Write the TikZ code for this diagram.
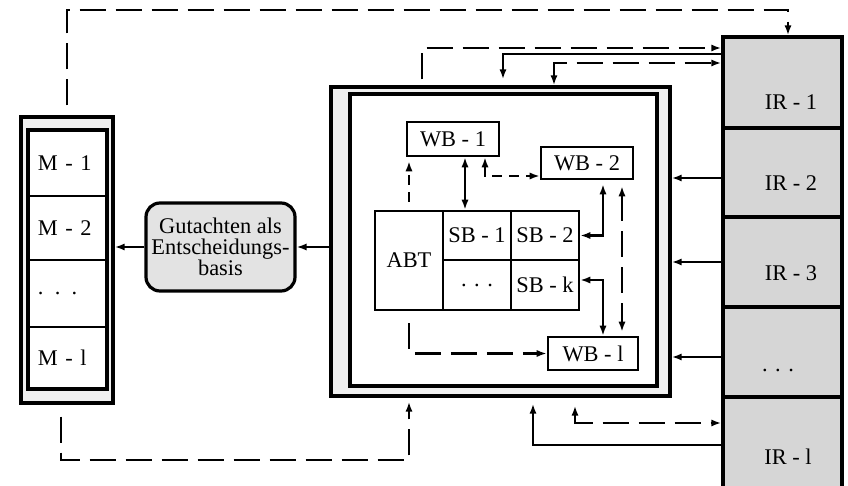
\documentclass[tikz,border=0pt]{standalone}
\usepackage{fontspec}
\setmainfont{Liberation Serif}
\usetikzlibrary{arrows.meta}

\begin{document}
\begin{tikzpicture}[x=0.5pt, y=-0.5pt, >={Latex[length=5pt,width=3.6pt]},
  font=\fontsize{11.2}{10.5}\selectfont,
  box/.style={draw, line width=1.3pt, inner sep=0pt, fill=white},
  frame/.style={draw, line width=1.7pt, inner sep=0pt},
  mcell/.style={draw, line width=0.9pt, inner xsep=5pt, inner ysep=0pt, text width=29.5pt, align=left},
  ircell/.style={draw, line width=1.7pt, fill=gray!32, inner sep=0pt, minimum width=59.5pt},
  conn/.style={line width=1.2pt},
  ldash/.style={conn, dash pattern=on 13pt off 5pt},
  sdash/.style={conn, dash pattern=on 5pt off 3.5pt}]
  \useasboundingbox (0,0) rectangle (848,486);

  \node[frame, fill=gray!12, minimum width=46pt, minimum height=143pt] (mframe) at (67,260) {};
  \node[frame, fill=white, minimum width=39.5pt, minimum height=129.5pt] (minner) at (67.5,259.5) {};
  \node[mcell, minimum height=33pt] (m1) at (67.5,163) {M - 1};
  \node[mcell, minimum height=32pt] (m2) at (67.5,228) {M - 2};
  \node[mcell, minimum height=33.5pt] (mdots) at (67.5,293.5) {. . .};
  \node[mcell, minimum height=31pt] (ml) at (67.5,358) {M - l};

  \node[draw, line width=1.6pt, fill=gray!22, rounded corners=7pt, inner sep=0pt, align=center,
    minimum width=74.5pt, minimum height=44pt] (gut) at (220.5,247) {Gutachten als\\Entscheidungs-\\basis};

  \node[frame, fill=gray!12, minimum width=169.5pt, minimum height=154.5pt] (cframe) at (500.5,241.5) {};
  \node[frame, fill=white, minimum width=153.5pt, minimum height=146pt] (cinner) at (503.5,240) {};
  \node[box, minimum width=46pt, minimum height=17pt] (wb1) at (453,139) {WB - 1};
  \node[box, minimum width=46pt, minimum height=16pt] (wb2) at (587,163) {WB - 2};
  \node[box, minimum width=34pt, minimum height=49.5pt] (abt) at (409,260.5) {ABT};
  \node[box, minimum width=34pt, minimum height=24.5pt] (sb1) at (477,235.5) {SB - 1};
  \node[box, minimum width=34pt, minimum height=24.5pt] (sb2) at (545,235.5) {SB - 2};
  \node[box, minimum width=34pt, minimum height=25pt] (sbdots) at (477,285) {. . .};
  \node[box, minimum width=34pt, minimum height=25pt] (sbk) at (545,285) {SB - k};
  \node[box, minimum width=45pt, minimum height=16.5pt] (wbl) at (593,353.5) {WB - l};

  \node[ircell, minimum height=45.5pt] (ir1) at (782.5,82.5) {};
  \node[ircell, minimum height=44.5pt] (ir2) at (782.5,172.5) {};
  \node[ircell, minimum height=45pt] (ir3) at (782.5,262) {};
  \node[ircell, minimum height=45pt] (irdots) at (782.5,352) {};
  \node[ircell, minimum height=47.5pt] (irl) at (782.5,444.5) {};
  \node (ir1t) at (791,102) {IR - 1};
  \node (ir2t) at (791,183) {IR - 2};
  \node (ir3t) at (791,273) {IR - 3};
  \node (irdotst) at (778,370) {. . .};
  \node (irlt) at (788,457) {IR - l};

  \draw[ldash,->] ([yshift=5pt]mframe.north) |- (788,10) -- (788,10 |- ir1.north);
  \draw[ldash,->,shorten <=3pt] (cframe.north -| 422,0) |- (ir1.west |- 0,48);
  \draw[conn,->,shorten >=3pt] (ir1.west |- 0,54) -| (cframe.north -| 503,0);
  \draw[ldash,<->] (cframe.north -| 554,0) |- (ir1.west |- 0,63);
  \draw[conn,->] (ir2.west |- 0,178) -- (cframe.east |- 0,178);
  \draw[conn,->] (ir3.west) -- (ir3.west -| cframe.east);
  \draw[conn,->] (irdots.west |- 0,357) -- (cframe.east |- 0,357);
  \draw[ldash,<->,shorten <=4pt] (cframe.south -| 575,0) |- (irl.west |- 0,423);
  \draw[conn,->,shorten >=3pt] (irl.west |- 0,445) -| (cframe.south -| 533,0);
  \draw[ldash,->,shorten <=6pt,shorten >=2pt] (mframe.south -| 61,0) |- (409,460) -- (cframe.south -| 409,0);
  \draw[conn,->] (cframe.west |- gut.east) -- (gut.east);
  \draw[conn,->] (gut.west) -- (gut.west -| mframe.east);

  \draw[sdash,->,shorten <=4pt,shorten >=2pt] (abt.north) -- (abt.north |- wb1.south);
  \draw[conn,<->] (wb1.south -| 465,0) -- (sb1.north -| 465,0);
  \draw[sdash,<->] (wb1.south -| 485,0) |- (wb2.west |- 0,176);
  \draw[conn,<->,shorten >=2pt] (sb2.east) -| (wb2.south -| 603,0);
  \draw[ldash,<->,shorten <=3pt,shorten >=2pt] (wb2.south -| 622,0) -- (wbl.north -| 622,0);
  \draw[conn,<->] (sbk.east |- 0,280) -| (wbl.north -| 603,0);
  \draw[ldash,->,shorten <=6pt] (abt.south) |- (wbl.west);
\end{tikzpicture}
\end{document}
